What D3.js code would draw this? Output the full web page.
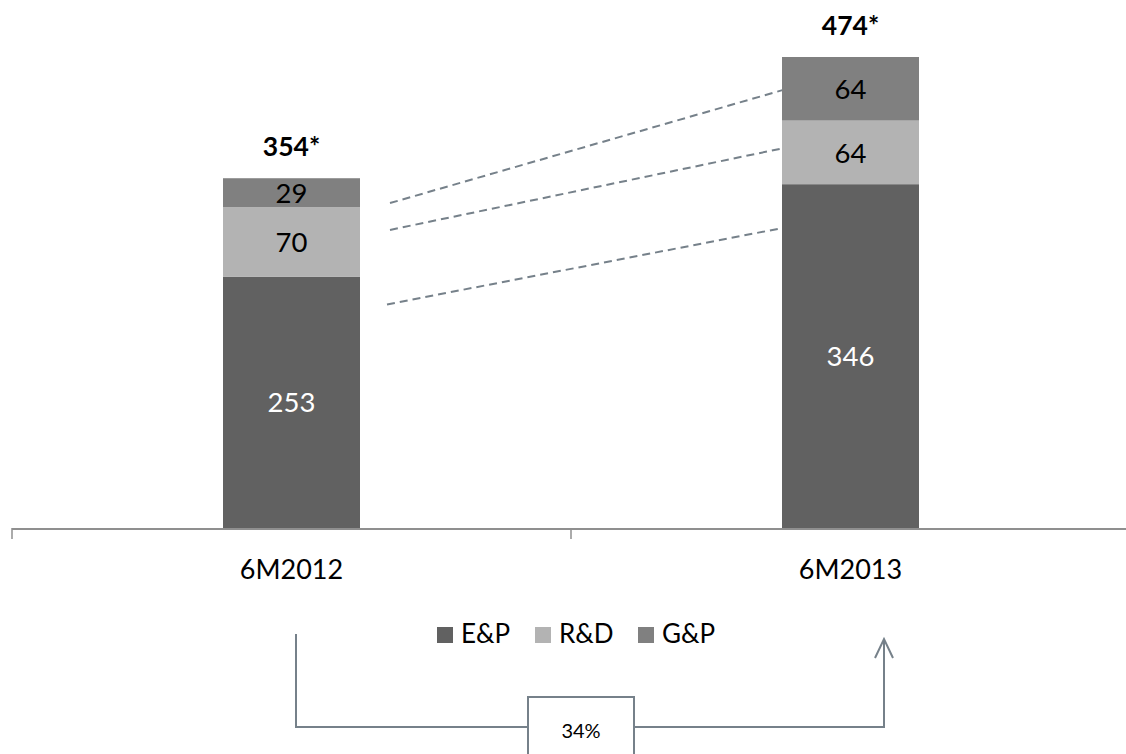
<!DOCTYPE html>
<html><head><meta charset="utf-8">
<script src="https://cdn.jsdelivr.net/npm/d3@7"></script>
<style>
html,body{margin:0;padding:0;background:#fff;}
svg{display:block;font-family:Lato,"Open Sans",sans-serif;}
</style></head>
<body><svg id="c" width="1126" height="754"></svg>
<script>
// ---- data ----
const categories = ["6M2012", "6M2013"];
const seriesNames = ["E&P", "R&D", "G&P"];
const epValues = [253, 346];
const rdValues = [70, 64];
const gpValues = [29, 64];
const totalLabels = ["354*", "474*"];
const growthLabel = "34%";
// connector lines (value space): start value on left, end value on right
const connStart = [327, 300, 225];
const connEnd = [444, 382, 303];

const colors = {"E&P": "#616161", "R&D": "#b3b3b3", "G&P": "#808080"};
const labelColors = {"E&P": "#ffffff", "R&D": "#000000", "G&P": "#000000"};

const svg = d3.select("#c");
const baseY = 528;
const x = d3.scaleBand().domain(categories).range([12, 1130]).paddingInner(0).paddingOuter(0);
const barW = 137;
const y = d3.scaleLinear().domain([0, 474]).range([baseY, 57]);

const rows = categories.map((c, i) => ({cat: c, "E&P": epValues[i], "R&D": rdValues[i], "G&P": gpValues[i]}));
const stack = d3.stack().keys(seriesNames)(rows);

const cx = c => x(c) + x.bandwidth() / 2;

// connectors (dashed)
const lineCol = "#76818a";
const x1 = cx(categories[0]) + barW / 2 + 30;
const x2 = cx(categories[1]) - barW / 2;
const endOffsets = [12, 0, 6];
svg.append("g").selectAll("line").data(connStart).join("line")
  .attr("x1", (d, i) => x1 - (i === 2 ? 3 : 0))
  .attr("y1", d => y(d))
  .attr("x2", (d, i) => x2 + endOffsets[i])
  .attr("y2", (d, i) => y(connEnd[i]))
  .attr("stroke", lineCol).attr("stroke-width", 2)
  .attr("stroke-dasharray", "8,5");

// bars
const g = svg.append("g");
stack.forEach(layer => {
  g.selectAll(null).data(layer).join("rect")
    .attr("x", d => cx(d.data.cat) - barW / 2)
    .attr("width", barW)
    .attr("y", d => y(d[1]))
    .attr("height", d => y(d[0]) - y(d[1]))
    .attr("fill", colors[layer.key]);
  g.selectAll(null).data(layer).join("text")
    .attr("x", d => cx(d.data.cat))
    .attr("y", d => (y(d[0]) + y(d[1])) / 2)
    .attr("dy", "0.37em")
    .attr("text-anchor", "middle")
    .attr("font-size", 27.5)
    .attr("fill", labelColors[layer.key])
    .text(d => d[1] - d[0]);
});

// total labels
g.selectAll(null).data(rows).join("text")
  .attr("x", d => cx(d.cat))
  .attr("y", d => y(d["E&P"] + d["R&D"] + d["G&P"]) - 22)
  .attr("text-anchor", "middle")
  .attr("font-size", 26.5).attr("font-weight", "bold")
  .attr("fill", "#000")
  .text((d, i) => totalLabels[i]);

// axis
const axisCol = "#8f8f8f";
const ax = svg.append("g");
ax.append("line").attr("x1", 12).attr("x2", 1126).attr("y1", baseY + 1).attr("y2", baseY + 1)
  .attr("stroke", axisCol).attr("stroke-width", 1.8);
ax.selectAll(null).data(categories).join("line")
  .attr("x1", d => x(d)).attr("x2", d => x(d))
  .attr("y1", baseY).attr("y2", baseY + 11)
  .attr("stroke", axisCol).attr("stroke-width", 1.5);
ax.selectAll(null).data(categories).join("text")
  .attr("x", d => cx(d)).attr("y", 579)
  .attr("text-anchor", "middle").attr("font-size", 27).attr("fill", "#000")
  .text(d => d);

// legend
const legX = [437, 535, 638];
const lg = svg.append("g");
seriesNames.forEach((s, i) => {
  lg.append("rect").attr("x", legX[i]).attr("y", 627).attr("width", 16).attr("height", 16).attr("fill", colors[s]);
  lg.append("text").attr("x", legX[i] + 24).attr("y", 643).attr("font-size", 26).attr("fill", "#000").text(s);
});

// growth bracket
const bx1 = 296, bx2 = 884, by = 727;
const br = svg.append("g").attr("stroke", lineCol).attr("stroke-width", 2).attr("fill", "none");
br.append("path").attr("d", `M${bx1},634 V${by} H528`);
br.append("path").attr("d", `M634,${by} H${bx2} V639`);
br.append("path").attr("d", `M${bx2 - 9},658 L${bx2},639 L${bx2 + 9},658`);
br.append("rect").attr("x", 528).attr("y", 697).attr("width", 106).attr("height", 70).attr("fill", "#fff");
svg.append("text").attr("x", 581).attr("y", 738).attr("text-anchor", "middle")
  .attr("font-size", 20).attr("fill", "#000").text(growthLabel);
</script></body></html>
